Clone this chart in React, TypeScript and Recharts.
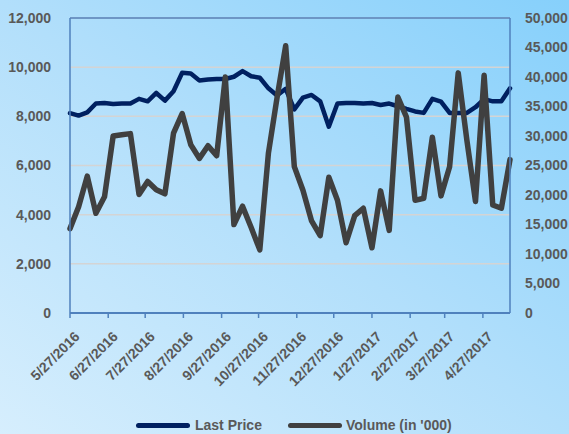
import React from 'react';
import { LineChart, Line, XAxis, YAxis, CartesianGrid, ReferenceLine } from 'recharts';

const dates = [
  '5/27/2016', '6/3/2016', '6/10/2016', '6/17/2016', '6/24/2016', '7/1/2016', '7/8/2016', '7/15/2016',
  '7/22/2016', '7/29/2016', '8/5/2016', '8/12/2016', '8/19/2016', '8/26/2016', '9/2/2016', '9/9/2016',
  '9/16/2016', '9/23/2016', '9/30/2016', '10/7/2016', '10/14/2016', '10/21/2016', '10/28/2016', '11/4/2016',
  '11/11/2016', '11/18/2016', '11/25/2016', '12/2/2016', '12/9/2016', '12/16/2016', '12/23/2016', '12/30/2016',
  '1/6/2017', '1/13/2017', '1/20/2017', '1/27/2017', '2/3/2017', '2/10/2017', '2/17/2017', '2/24/2017',
  '3/3/2017', '3/10/2017', '3/17/2017', '3/24/2017', '3/31/2017', '4/7/2017', '4/14/2017', '4/21/2017',
  '4/28/2017', '5/5/2017', '5/12/2017', '5/19/2017',
];

const lastPrice = [
  8130, 8030, 8160, 8520, 8540, 8500, 8520, 8520, 8710, 8610, 8950, 8640, 9020,
  9770, 9740, 9460, 9500, 9520, 9520, 9610, 9840, 9630, 9570, 9140, 8850, 9120,
  8280, 8760, 8870, 8610, 7580, 8520, 8540, 8540, 8520, 8540, 8460, 8520, 8410,
  8300, 8200, 8140, 8710, 8600, 8140, 8140, 8140, 8370, 8700, 8610, 8610, 9140,
];

const volume = [
  14300, 18000, 23200, 16900, 19700, 30000, 30200, 30400, 20100, 22300, 20900, 20200, 30500,
  33800, 28500, 26200, 28350, 26650, 40000, 15000, 18100, 14500, 10700, 27100, 36500, 45300,
  24800, 20800, 15600, 13100, 23000, 19100, 11900, 16500, 17750, 11050, 20700, 14000, 36600,
  33200, 19100, 19450, 29800, 19850, 24800, 40700, 29300, 18900, 40300, 18300, 17750, 26000,
];

const tickDates = [
  '5/27/2016', '6/27/2016', '7/27/2016', '8/27/2016', '9/27/2016', '10/27/2016',
  '11/27/2016', '12/27/2016', '1/27/2017', '2/27/2017', '3/27/2017', '4/27/2017',
];

const priceTicks = [0, 2000, 4000, 6000, 8000, 10000, 12000];
const volumeTicks = [0, 5000, 10000, 15000, 20000, 25000, 30000, 35000, 40000, 45000, 50000];

const toTime = (s: string) => {
  const [m, d, y] = s.split('/').map(Number);
  return Date.UTC(y, m - 1, d);
};

const data = dates.map((d, i) => ({ t: toTime(d), price: lastPrice[i], volume: volume[i] }));
const tickTimes = tickDates.map(toTime);

const fmt = (v: number) => v.toLocaleString('en-US');
const labelColor = '#595959';
const axisBlue = '#4f81bd';
const font = '"Liberation Sans", Arial, sans-serif';

const DateTick = (props: any) => {
  const { x, y, payload } = props;
  const idx = tickTimes.indexOf(payload.value);
  const label = idx >= 0 ? tickDates[idx] : '';
  return (
    <g transform={`translate(${x + 7},${y + 14})`}>
      <text
        textAnchor="end"
        transform="rotate(-45)"
        fill={labelColor}
        fontSize={14}
        fontWeight="bold"
        fontFamily={font}
        dy={5}
      >
        {label}
      </text>
    </g>
  );
};

export default function App() {
  return (
    <div
      style={{
        position: 'absolute',
        left: 0,
        top: 0,
        width: 569,
        height: 434,
        overflow: 'hidden',
        background: 'linear-gradient(to top right, #d6eefd 0%, #b2dffb 50%, #86d0fb 100%)',
        fontFamily: font,
      }}
    >
      <LineChart
        width={569}
        height={434}
        data={data}
        margin={{ top: 18, right: 0, left: 0, bottom: 0 }}
      >
        <CartesianGrid yAxisId="left" vertical={false} stroke="#d4d4d4" strokeWidth={1.5} />
        <XAxis
          dataKey="t"
          type="number"
          scale="time"
          domain={['dataMin', 'dataMax']}
          ticks={tickTimes}
          tick={<DateTick />}
          interval={0}
          height={121}
          axisLine={{ stroke: axisBlue, strokeWidth: 2 }}
          tickLine={{ stroke: axisBlue, strokeWidth: 1.5 }}
          tickSize={5}
        />
        <YAxis
          yAxisId="left"
          orientation="left"
          domain={[0, 12000]}
          ticks={priceTicks}
          tickFormatter={fmt}
          width={70}
          axisLine={{ stroke: axisBlue, strokeWidth: 1.5 }}
          tickLine={false}
          tickSize={0}
          tickMargin={19}
          tick={{ fill: labelColor, fontSize: 14, fontWeight: 'bold', fontFamily: font }}
        />
        <YAxis
          yAxisId="right"
          orientation="right"
          domain={[0, 50000]}
          ticks={volumeTicks}
          tickFormatter={fmt}
          width={59}
          axisLine={{ stroke: axisBlue, strokeWidth: 1.5 }}
          tickLine={false}
          tickSize={0}
          tickMargin={15}
          tick={{ fill: labelColor, fontSize: 14, fontWeight: 'bold', fontFamily: font, textAnchor: 'start' }}
        />
        <ReferenceLine yAxisId="left" y={12000} stroke={axisBlue} strokeWidth={1.5} />
        <Line
          yAxisId="left"
          type="linear"
          dataKey="price"
          stroke="#002060"
          strokeWidth={4.5}
          dot={false}
          strokeLinejoin="round"
          strokeLinecap="round"
          isAnimationActive={false}
        />
        <Line
          yAxisId="right"
          type="linear"
          dataKey="volume"
          stroke="#404040"
          strokeWidth={5.5}
          dot={false}
          strokeLinejoin="round"
          strokeLinecap="round"
          isAnimationActive={false}
        />
      </LineChart>
      <div
        style={{
          position: 'absolute',
          left: 0,
          top: 417,
          width: 569,
          display: 'flex',
          justifyContent: 'flex-start',
          alignItems: 'center',
          color: labelColor,
          fontSize: 14,
          fontWeight: 'bold',
          whiteSpace: 'nowrap',
        }}
      >
        <span style={{ marginLeft: 136, width: 54, height: 5, borderRadius: 3, background: '#002060', display: 'inline-block' }} />
        <span style={{ marginLeft: 5 }}>Last Price</span>
        <span style={{ marginLeft: 26, width: 54, height: 5, borderRadius: 3, background: '#404040', display: 'inline-block' }} />
        <span style={{ marginLeft: 4 }}>Volume (in '000)</span>
      </div>
    </div>
  );
}
